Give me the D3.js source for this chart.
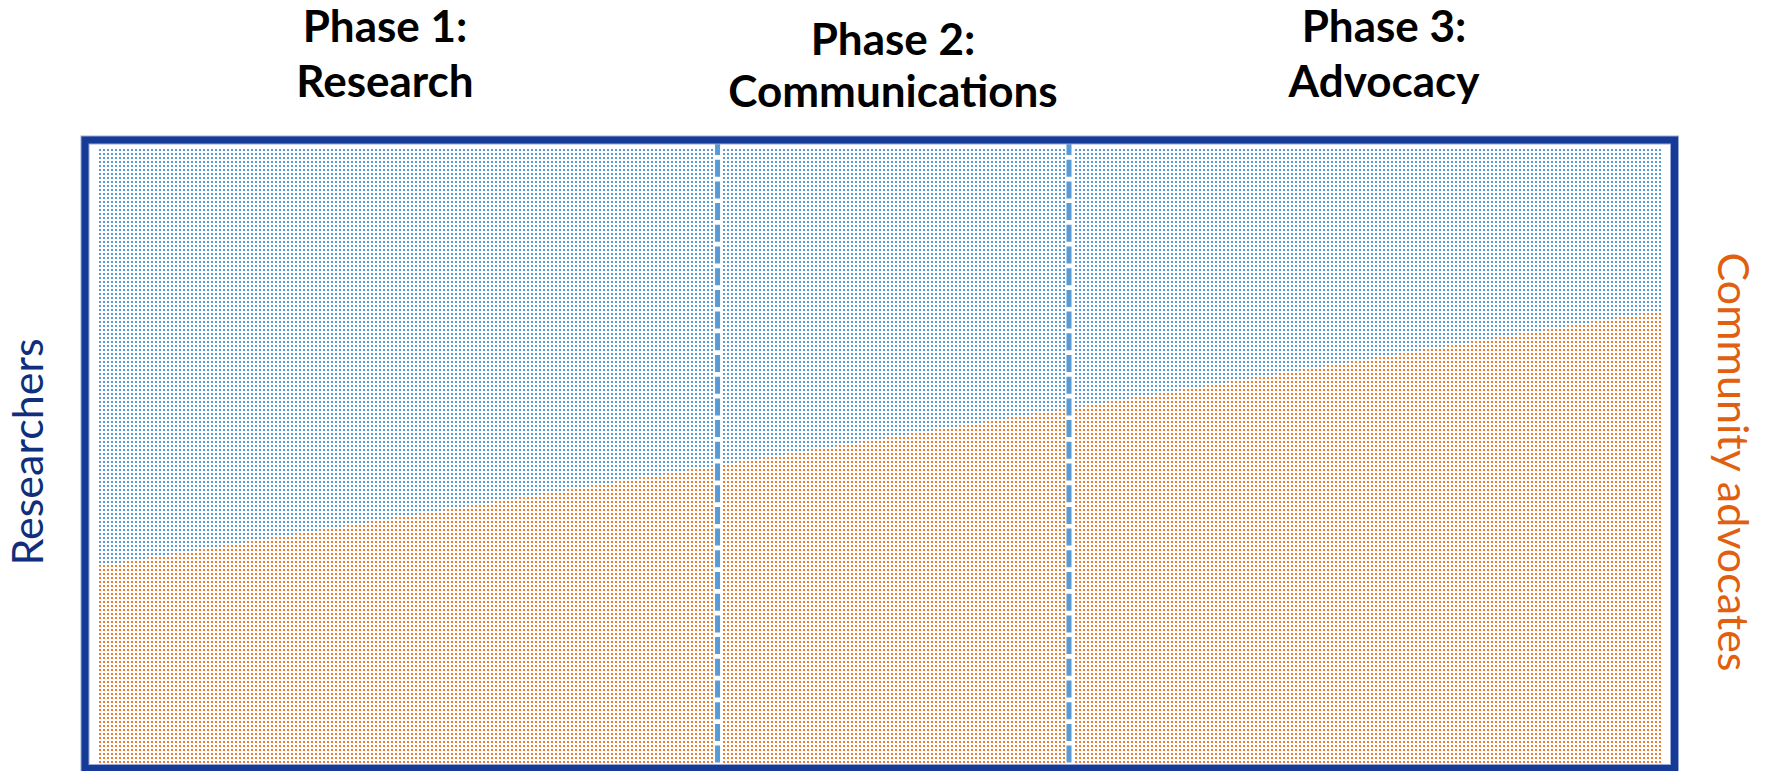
<!DOCTYPE html>
<html>
<head>
<meta charset="utf-8">
<script src="https://cdn.jsdelivr.net/npm/d3@7"></script>
<style>
  html, body { margin: 0; padding: 0; background: #fff; }
  svg { display: block; }
</style>
</head>
<body>
<div id="chart"></div>
<script>
//Phase names (two lines each) and where each phase starts on the 0-100 timeline
const phaseLine1 = ['Phase 1:', 'Phase 2:', 'Phase 3:'];
const phaseLine2 = ['Research', 'Communications', 'Advocacy'];
const phaseStart = [0, 39.6, 62.1];
const phaseEnd = 100;
//Share of the work held by community advocates along the timeline
const shareX = [0, 39.6, 62.1, 100];
const advocateShare = [0.32, 0.484, 0.577, 0.736];
const sideLabels = ['Researchers', 'Community advocates'];

const width = 1772, height = 771;
const blueDot = '#5b9bd5', orangeDot = '#ed7d31';

const svg = d3.select('#chart').append('svg')
    .attr('width', width)
    .attr('height', height);

const xScale = d3.scaleLinear()
    .domain([0, phaseEnd])
    .range([99, 1661]);
const yScale = d3.scaleLinear()
    .domain([0, 1])
    .range([763, 149]);

//Dotted fills, one pattern per group
const defs = svg.append('defs');
[['dotsBlue', blueDot], ['dotsOrange', orangeDot]].forEach(function(p) {
    const pat = defs.append('pattern')
        .attr('id', p[0])
        .attr('patternUnits', 'userSpaceOnUse')
        .attr('x', 99).attr('y', 149)
        .attr('width', 4).attr('height', 4);
    pat.append('rect')
        .attr('x', 0).attr('y', 0)
        .attr('width', 2).attr('height', 2)
        .attr('fill', p[1]);
});

const points = shareX.map(function(x, i) { return { x: x, share: advocateShare[i] }; });

//Researchers on top of the dividing line
const topArea = d3.area()
    .x(function(d) { return xScale(d.x); })
    .y0(function(d) { return yScale(1); })
    .y1(function(d) { return yScale(d.share); });
//Community advocates underneath
const bottomArea = d3.area()
    .x(function(d) { return xScale(d.x); })
    .y0(function(d) { return yScale(0); })
    .y1(function(d) { return yScale(d.share); });

svg.append('path')
    .datum(points)
    .attr('d', topArea)
    .attr('fill', 'url(#dotsBlue)');
svg.append('path')
    .datum(points)
    .attr('d', bottomArea)
    .attr('fill', 'url(#dotsOrange)');

//Dashed dividers between phases
const dividers = phaseStart.slice(1);
svg.selectAll('.divider-bg')
    .data(dividers)
    .enter()
    .append('line')
    .attr('class', 'divider-bg')
    .attr('x1', function(d) { return xScale(d); })
    .attr('x2', function(d) { return xScale(d); })
    .attr('y1', 144).attr('y2', 766)
    .attr('stroke', '#ffffff')
    .attr('stroke-width', 8);
svg.selectAll('.divider')
    .data(dividers)
    .enter()
    .append('line')
    .attr('class', 'divider')
    .attr('x1', function(d) { return xScale(d); })
    .attr('x2', function(d) { return xScale(d); })
    .attr('y1', 144).attr('y2', 766)
    .attr('stroke', blueDot)
    .attr('stroke-width', 5)
    .attr('stroke-dasharray', '17 4.7')
    .attr('stroke-dashoffset', 6);

//Frame
svg.append('rect')
    .attr('x', 85).attr('y', 140)
    .attr('width', 1589.5).attr('height', 628.5)
    .attr('fill', 'none')
    .attr('stroke', '#9aa9d3')
    .attr('stroke-width', 9);
svg.append('rect')
    .attr('x', 85).attr('y', 140)
    .attr('width', 1589.5).attr('height', 628.5)
    .attr('fill', 'none')
    .attr('stroke', '#163a97')
    .attr('stroke-width', 7);

//Phase titles
const titleX = [385, 893, 1384];
const titleY1 = [42, 55, 42];
const titleY2 = [97, 107, 97];
const titles = svg.selectAll('.title')
    .data(phaseLine1)
    .enter()
    .append('text')
    .attr('class', 'title')
    .attr('text-anchor', 'middle')
    .style('font-family', 'Lato, "Open Sans", sans-serif')
    .style('font-weight', 'bold')
    .style('font-size', '44px')
    .attr('fill', '#000');
titles.append('tspan')
    .attr('x', function(d, i) { return titleX[i]; })
    .attr('y', function(d, i) { return titleY1[i]; })
    .text(function(d) { return d; });
titles.append('tspan')
    .attr('x', function(d, i) { return titleX[i]; })
    .attr('y', function(d, i) { return titleY2[i]; })
    .text(function(d, i) { return phaseLine2[i]; });

//Side labels
svg.append('text')
    .attr('transform', 'translate(43, 452) rotate(-90)')
    .attr('text-anchor', 'middle')
    .style('font-family', 'Lato, "Open Sans", sans-serif')
    .style('font-size', '43px')
    .attr('fill', '#102f7a')
    .text(sideLabels[0]);
svg.append('text')
    .attr('transform', 'translate(1718, 462) rotate(90)')
    .attr('text-anchor', 'middle')
    .style('font-family', 'Lato, "Open Sans", sans-serif')
    .style('font-size', '43px')
    .attr('fill', '#e0600f')
    .text(sideLabels[1]);
</script>
</body>
</html>
